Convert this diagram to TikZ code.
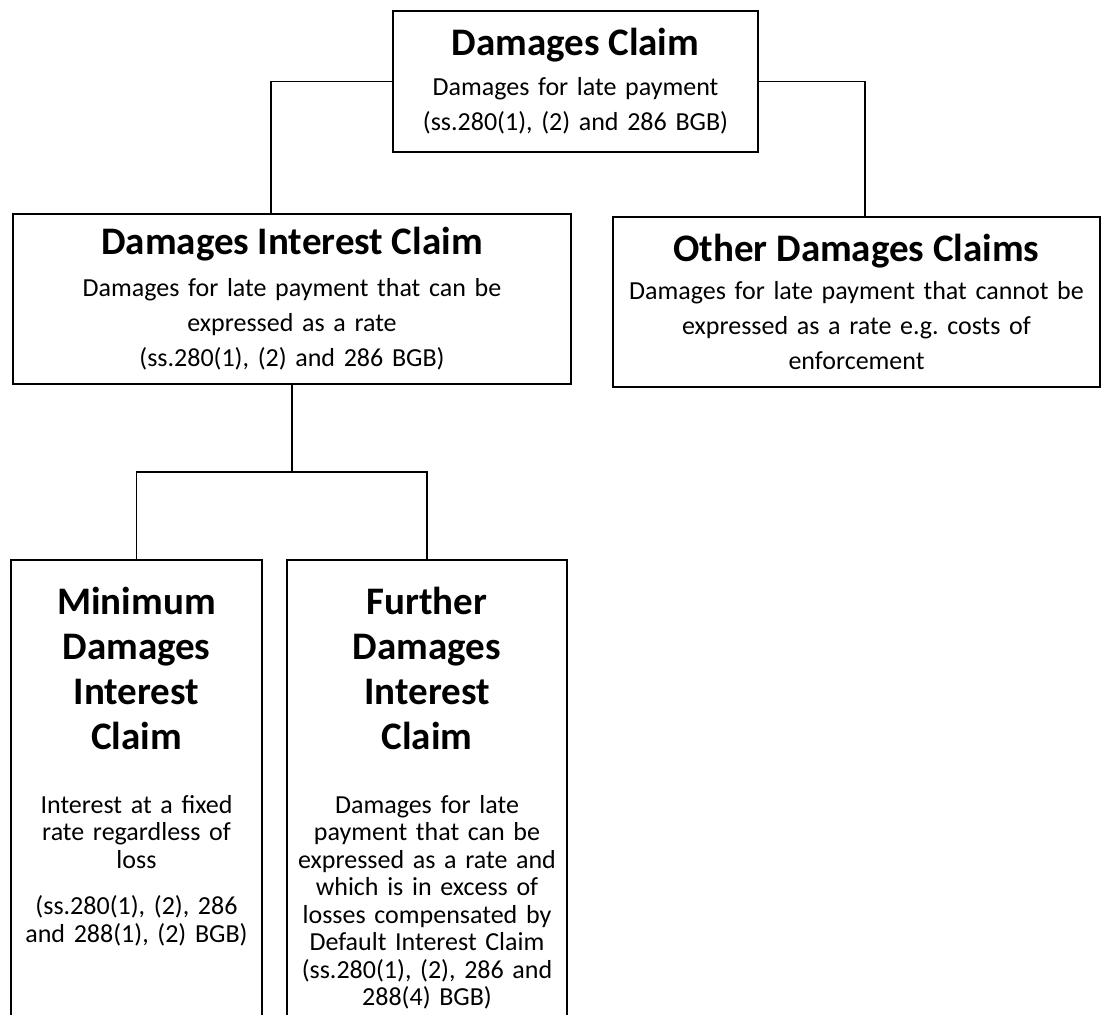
\documentclass[tikz,border=0pt]{standalone}
\usepackage{fontspec}
\setmainfont[WordSpace=0.85]{Carlito}
\usetikzlibrary{positioning}
\frenchspacing
\newcommand{\cltitle}{\fontsize{39}{45}\selectfont\bfseries}
\newcommand{\clbody}{\fontsize{26}{35}\selectfont}
\newcommand{\clnarrow}{\fontsize{26}{27.5}\selectfont}
\tikzset{
  claimbox/.style={draw=black,line width=2pt,fill=white,inner sep=0pt,align=center},
  cltext/.style  ={inner sep=0pt,align=center},
  link/.style    ={line width=1.8pt,draw=black}
}

\begin{document}
\begin{tikzpicture}[x=1pt,y=-1pt]
  \useasboundingbox (0,0) rectangle (1107,1014);
  \node[claimbox,minimum width=365pt,minimum height=141pt,text width=345pt,font=\clbody]
       (dclaim) at (575.5,81.5)
       {{\cltitle Damages Claim}\\[5pt]Damages for late payment\\(ss.280(1), (2) and 286 BGB)};
  \node[claimbox,minimum width=558pt,minimum height=170pt,text width=530pt,font=\clbody]
       (dic) at (292,299)
       {{\cltitle Damages Interest Claim}\\[7pt]Damages for late payment that can be\\
        expressed as a rate\\(ss.280(1), (2) and 286 BGB)};
  \node[claimbox,minimum width=487pt,minimum height=170pt,text width=470pt,font=\clbody]
       (odc) at (856.5,302)
       {{\cltitle Other Damages Claims}\\[3pt]Damages for late payment that cannot be\\
        expressed as a rate e.g. costs of\\enforcement};
  % lower boxes run off the bottom edge
  \node[claimbox,minimum width=251pt,minimum height=520pt,anchor=north] (mindic) at (136.5,559) {};
  \node[claimbox,minimum width=280pt,minimum height=520pt,anchor=north] (furdic) at (427,559) {};
  \node[cltext,text width=245pt,font=\clnarrow,below=28pt of mindic.north] (mintext)
       {{\cltitle Minimum\\Damages\\Interest\\Claim\par}\vspace{36pt}
        Interest at a fixed\\rate regardless of\\loss\par\vspace{19pt}
        (ss.280(1), (2), 286\\and 288(1), (2) BGB)};
  \node[cltext,text width=275pt,font=\clnarrow,below=28pt of furdic.north] (furtext)
       {{\cltitle Further\\Damages\\Interest\\Claim\par}\vspace{36pt}
        Damages for late\\payment that can be\\expressed as a rate and\\which is in excess of\\
        losses compensated by\\Default Interest Claim\\(ss.280(1), (2), 286 and\\288(4) BGB)};
  \coordinate (ldrop) at (271,0);
  \coordinate (rdrop) at (865,0);
  \coordinate (split) at (292,472);
  \draw[link] (dclaim.west) -| (ldrop |- dic.north);
  \draw[link] (dclaim.east) -| (rdrop |- odc.north);
  \draw[link] (dic.south) -- (split);
  \draw[link] (mindic.north) |- (split) -| (furdic.north);
\end{tikzpicture}
\end{document}
